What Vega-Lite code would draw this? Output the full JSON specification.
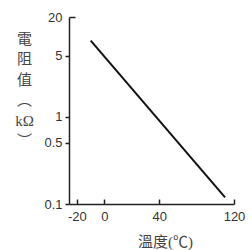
{
  "$schema": "https://vega.github.io/schema/vega-lite/v6.json",
  "width": 165,
  "height": 187,
  "autosize": "none",
  "padding": {"left": 69, "top": 17, "right": 18, "bottom": 46},
  "background": "#ffffff",
  "config": {"view": {"stroke": null}},
  "data": {"values": [
    {"temp": -9.9, "resistance": 7.4},
    {"temp": 87.8, "resistance": 0.119}
  ]},
  "mark": {"type": "line", "color": "#111111", "strokeWidth": 2},
  "encoding": {
    "x": {
      "field": "temp", "type": "quantitative",
      "scale": {"domain": [-25.7, 94.3], "nice": false, "zero": false},
      "axis": {
        "values": [-20, 0, 40, 94.3],
        "labelExpr": "datum.value > 90 ? '120' : (datum.value < 0 ? '-20' : datum.label)",
        "grid": false, "domainColor": "#222", "domainWidth": 1.5,
        "tickColor": "#222", "tickWidth": 1.5, "tickSize": -5,
        "labelFont": "Liberation Sans", "labelFontSize": 13, "labelColor": "#333",
        "labelPadding": 11, "labelFlush": false,
        "title": "溫度(℃)",
        "titleFont": "Liberation Serif, Noto Sans CJK TC", "titleFontSize": 15, "titleFontWeight": "normal",
        "titleColor": "#444", "titleX": 96, "titleY": 42, "titleAlign": "center", "titleAnchor": null, "titleBaseline": "alphabetic"
      }
    },
    "y": {
      "field": "resistance", "type": "quantitative",
      "scale": {"type": "log", "domain": [0.1, 13.8], "nice": false},
      "axis": {
        "values": [0.1, 0.5, 1, 5, 13.8],
        "labelExpr": "datum.value > 10 ? '20' : format(datum.value, '~g')",
        "grid": false, "domainColor": "#222", "domainWidth": 1.5,
        "tickColor": "#222", "tickWidth": 1.5,
        "tickSize": {"condition": {"test": "datum.value > 10", "value": -6}, "value": 4},
        "labelFont": "Liberation Sans", "labelFontSize": 13, "labelColor": "#333",
        "labelPadding": {"condition": {"test": "datum.value > 10", "value": 13}, "value": 3},
        "labelFlush": false,
        "title": ["電", "阻", "值", "︵", "kΩ", "︶"],
        "titleAngle": 0,
        "titleFont": "Liberation Serif, Noto Sans CJK TC", "titleFontSize": 15, "titleFontWeight": "normal",
        "titleColor": "#444", "titleX": -45, "titleY": 14, "titleAlign": "center", "titleAnchor": null, "titleBaseline": "top",
        "titleLineHeight": 20.5
      }
    }
  }
}
